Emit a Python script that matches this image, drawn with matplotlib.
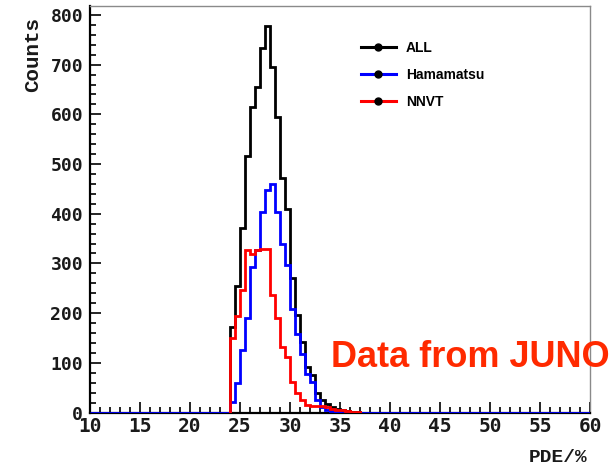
import numpy as np
import matplotlib
matplotlib.use("Agg")
import matplotlib.pyplot as plt
from matplotlib.lines import Line2D
from matplotlib.ticker import MultipleLocator

# Histogram binning (PDE in %)
x_min, x_max = 10.0, 60.0
bin_width = 0.5
first_filled_edge = 24.0

# Counts per 0.5 % bin, starting at the first filled edge (24.0 %)
counts_all = [172, 255, 372, 516, 614, 655, 734, 778, 696, 595, 471, 409, 270,
              196, 142, 92, 75, 39, 25, 17, 11, 7, 5, 3, 2, 1]
counts_hamamatsu = [22, 60, 126, 190, 292, 327, 404, 448, 460, 403, 339, 297, 208,
                    157, 117, 77, 62, 26, 12, 6, 3, 1, 0, 0, 0, 0]
counts_nnvt = [150, 195, 246, 326, 318, 328, 330, 330, 236, 190, 132, 112, 62,
               39, 25, 15, 13, 13, 13, 11, 8, 6, 5, 3, 2, 1]

series_labels = ["ALL", "Hamamatsu", "NNVT"]
series_colors = ["#000000", "#0000ff", "#ff0000"]

y_max = 818
x_ticks_major, x_ticks_minor = 5, 1
y_ticks_major, y_ticks_minor = 100, 20


def full_range(values):
    """Place filled bins into the full 10-60 % axis range (empty bins are 0)."""
    n_total = int(round((x_max - x_min) / bin_width))
    start = int(round((first_filled_edge - x_min) / bin_width))
    out = np.zeros(n_total)
    out[start:start + len(values)] = values
    return out


edges = np.linspace(x_min, x_max, int(round((x_max - x_min) / bin_width)) + 1)

fig = plt.figure(figsize=(6.12, 4.68), dpi=100)
ax = fig.add_axes([90 / 612, 1 - 412.5 / 468, 500 / 612, 406.5 / 468])

# ALL and Hamamatsu are drawn over the whole axis range, NNVT over its filled bins
ax.stairs(full_range(counts_all), edges, color=series_colors[0], lw=2.0,
          baseline=None, zorder=3)
ax.stairs(full_range(counts_hamamatsu), edges, color=series_colors[1], lw=2.0,
          baseline=None, zorder=4)
nnvt_edges = first_filled_edge + bin_width * np.arange(len(counts_nnvt) + 1)
ax.stairs(counts_nnvt, nnvt_edges, color=series_colors[2], lw=2.0,
          baseline=0, zorder=5)

ax.set_xlim(x_min, x_max)
ax.set_ylim(0, y_max)

ax.xaxis.set_major_locator(MultipleLocator(x_ticks_major))
ax.xaxis.set_minor_locator(MultipleLocator(x_ticks_minor))
ax.yaxis.set_major_locator(MultipleLocator(y_ticks_major))
ax.yaxis.set_minor_locator(MultipleLocator(y_ticks_minor))

tick_font = {"family": "DejaVu Sans Mono", "weight": "bold"}
ax.tick_params(axis="both", which="both", direction="in", top=False, right=False,
               color="black", width=1.2)
ax.tick_params(axis="both", which="major", length=8)
ax.tick_params(axis="both", which="minor", length=4)
ax.tick_params(axis="x", which="major", pad=3.5, labelsize=14)
ax.tick_params(axis="y", which="major", pad=5, labelsize=13)
for lab in ax.get_xticklabels() + ax.get_yticklabels():
    lab.set_fontfamily(tick_font["family"])
    lab.set_fontweight(tick_font["weight"])
    lab.set_color("#1a1a1a")

for side in ("left", "bottom"):
    ax.spines[side].set_color("black")
    ax.spines[side].set_linewidth(1.6)
for side in ("top", "right"):
    ax.spines[side].set_color("#8a8a8a")
    ax.spines[side].set_linewidth(1.0)

title_font = dict(family="Liberation Mono", weight="bold", color="#1a1a1a")
fig.text(588 / 612, 1 - 457 / 468, "PDE/%", ha="right", va="center",
         fontsize=14, **title_font)
fig.text(33 / 612, 1 - 17 / 468, "Counts", ha="center", va="top",
         rotation=90, fontsize=15, **title_font)

handles = [Line2D([], [], color=c, lw=2.2, marker="o", markersize=5,
                  markerfacecolor="black", markeredgecolor="black")
           for c in series_colors]
fig.legend(handles, series_labels, loc="upper left",
           bbox_to_anchor=(361 / 612, 1 - 41 / 468), bbox_transform=fig.transFigure,
           frameon=False, handlelength=2.5, handletextpad=0.75,
           labelspacing=0.92, borderpad=0, borderaxespad=0,
           prop={"family": "Liberation Sans", "weight": "bold", "size": 10})

fig.text(331 / 612, 1 - 367 / 468, "Data from JUNO", ha="left", va="baseline",
         fontsize=26, fontweight="bold", family="Liberation Sans",
         color="#ff2a00", zorder=10)

fig.savefig("out.png", dpi=100)
